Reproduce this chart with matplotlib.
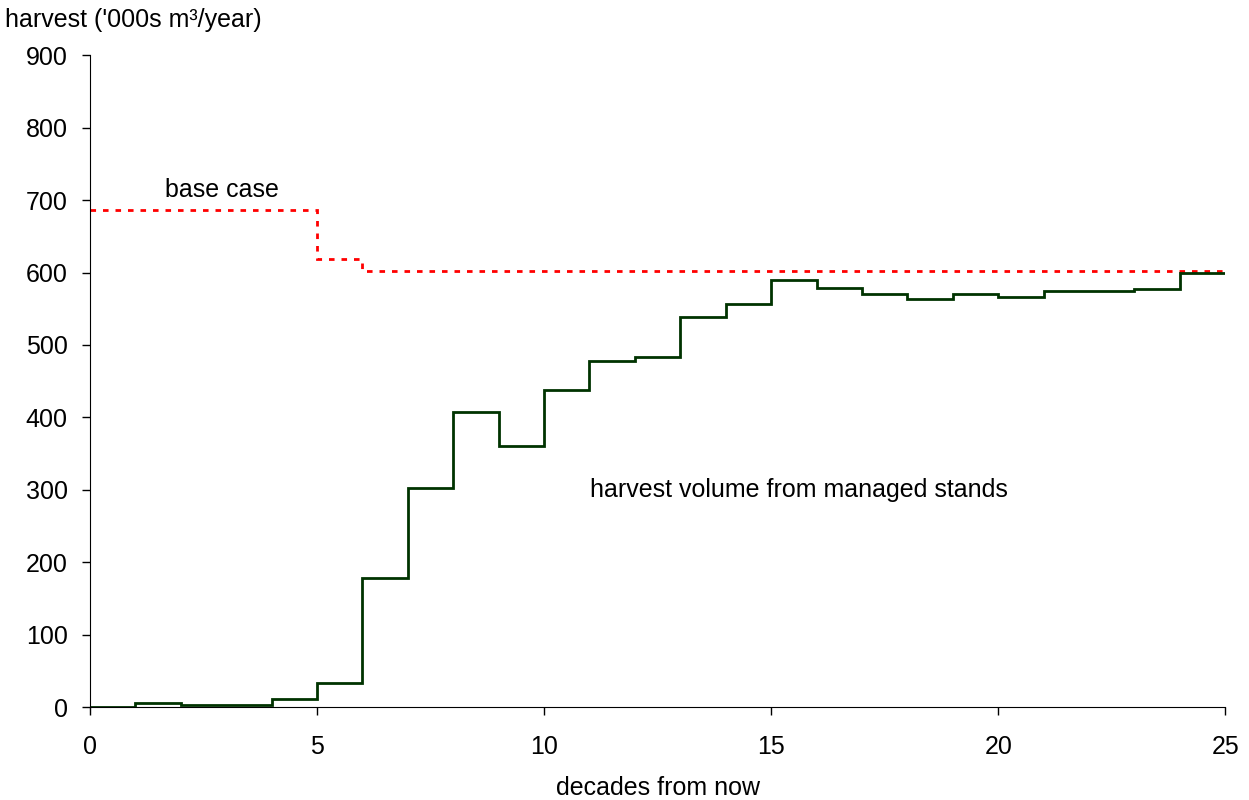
import numpy as np
import matplotlib.pyplot as plt

plt.rcParams['font.family'] = ['Liberation Sans', 'DejaVu Sans']

# harvest per decade, '000s m3/year
decade_edges = np.arange(0, 26)
managed = [0, 6, 3, 3, 11, 33, 179, 303, 408, 361, 438, 478, 483, 538, 557,
           590, 579, 571, 563, 571, 566, 574, 574, 577, 599]
base_case_edges = [0, 5, 6, 25]
base_case = [687, 618, 602]

fig = plt.figure(figsize=(12.49, 8), dpi=100)
ax = fig.add_axes([0.072, 0.116, 0.909, 0.815])

ax.stairs(base_case, base_case_edges, color='#ff0000', linewidth=2,
          linestyle=(0, (2, 2.5)), baseline=None)
ax.stairs(managed, decade_edges, color='#003300', linewidth=2, baseline=None)

ax.set_xlim(0, 25)
ax.set_ylim(0, 900)
ax.set_xticks(range(0, 26, 5))
ax.set_yticks(range(0, 901, 100))
ax.tick_params(labelsize=18, length=6, width=1, direction='out')
ax.tick_params(axis='y', pad=10)
ax.tick_params(axis='x', pad=14)
for s in ['top', 'right']:
    ax.spines[s].set_visible(False)

fig.text(165 / 1249, 1 - 190 / 800, 'base case', fontsize=18, va='center')
fig.text(590 / 1249, 1 - 490 / 800, 'harvest volume from managed stands',
         fontsize=18, va='center')
fig.text(5 / 1249, 1 - 20 / 800, "harvest ('000s m³/year)", fontsize=18, va='center')
ax.set_xlabel('decades from now', fontsize=18, labelpad=12)

fig.savefig('out.png', dpi=100)
